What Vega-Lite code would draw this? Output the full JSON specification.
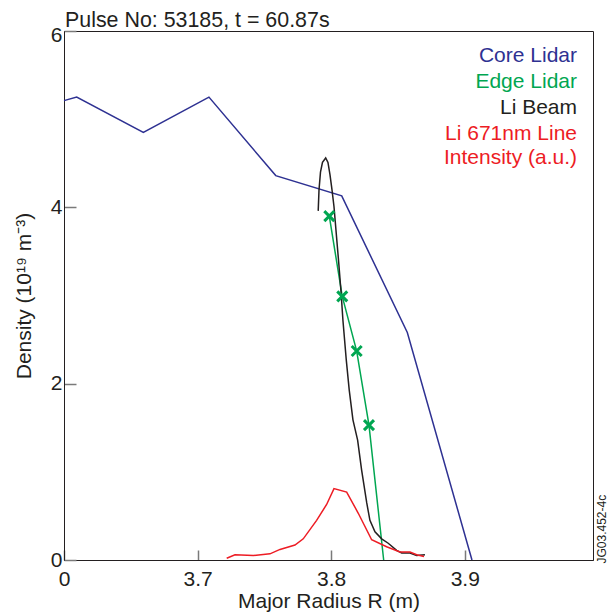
{
  "$schema": "https://vega.github.io/schema/vega-lite/v6.json",
  "width": 529,
  "height": 529,
  "autosize": "none",
  "padding": {"left": 64, "top": 31, "right": 17, "bottom": 52},
  "background": "white",
  "config": {"font": "Liberation Sans", "view": {"stroke": "#231f20", "strokeWidth": 1}},
  "title": {"text": "Pulse No: 53185, t = 60.87s", "anchor": "start", "frame": "group", "fontSize": 21.4, "fontWeight": "normal", "color": "#231f20", "baseline": "bottom", "offset": 1, "dx": 1, "dy": 29},
  "datasets": {
    "curves": [
      {"series": "Core Lidar", "R": 3.6, "D": 5.21},
      {"series": "Core Lidar", "R": 3.6095, "D": 5.25},
      {"series": "Core Lidar", "R": 3.6594, "D": 4.85},
      {"series": "Core Lidar", "R": 3.7085, "D": 5.25},
      {"series": "Core Lidar", "R": 3.7585, "D": 4.36},
      {"series": "Core Lidar", "R": 3.8079, "D": 4.13},
      {"series": "Core Lidar", "R": 3.857, "D": 2.58},
      {"series": "Core Lidar", "R": 3.9054, "D": 0.0},
      {"series": "Edge Lidar", "R": 3.7986, "D": 3.9},
      {"series": "Edge Lidar", "R": 3.8083, "D": 2.99},
      {"series": "Edge Lidar", "R": 3.8191, "D": 2.37},
      {"series": "Edge Lidar", "R": 3.8283, "D": 1.53},
      {"series": "Edge Lidar", "R": 3.8393, "D": 0.0},
      {"series": "Li Beam", "R": 3.7903, "D": 3.96},
      {"series": "Li Beam", "R": 3.7909, "D": 4.2},
      {"series": "Li Beam", "R": 3.792, "D": 4.4},
      {"series": "Li Beam", "R": 3.7935, "D": 4.51},
      {"series": "Li Beam", "R": 3.7959, "D": 4.56},
      {"series": "Li Beam", "R": 3.7976, "D": 4.51},
      {"series": "Li Beam", "R": 3.7991, "D": 4.37},
      {"series": "Li Beam", "R": 3.8006, "D": 4.2},
      {"series": "Li Beam", "R": 3.8021, "D": 4.01},
      {"series": "Li Beam", "R": 3.8036, "D": 3.74},
      {"series": "Li Beam", "R": 3.8055, "D": 3.4},
      {"series": "Li Beam", "R": 3.8073, "D": 3.06},
      {"series": "Li Beam", "R": 3.8088, "D": 2.72},
      {"series": "Li Beam", "R": 3.8113, "D": 2.27},
      {"series": "Li Beam", "R": 3.8135, "D": 1.93},
      {"series": "Li Beam", "R": 3.8163, "D": 1.59},
      {"series": "Li Beam", "R": 3.8198, "D": 1.36},
      {"series": "Li Beam", "R": 3.8228, "D": 1.02},
      {"series": "Li Beam", "R": 3.8266, "D": 0.65},
      {"series": "Li Beam", "R": 3.829, "D": 0.45},
      {"series": "Li Beam", "R": 3.8328, "D": 0.32},
      {"series": "Li Beam", "R": 3.8378, "D": 0.24},
      {"series": "Li Beam", "R": 3.8427, "D": 0.19},
      {"series": "Li Beam", "R": 3.849, "D": 0.11},
      {"series": "Li Beam", "R": 3.8528, "D": 0.08},
      {"series": "Li Beam", "R": 3.859, "D": 0.08},
      {"series": "Li Beam", "R": 3.864, "D": 0.05},
      {"series": "Li Beam", "R": 3.8702, "D": 0.06},
      {"series": "Li 671nm Line Intensity (a.u.)", "R": 3.7218, "D": 0.02},
      {"series": "Li 671nm Line Intensity (a.u.)", "R": 3.728, "D": 0.06},
      {"series": "Li 671nm Line Intensity (a.u.)", "R": 3.7417, "D": 0.05},
      {"series": "Li 671nm Line Intensity (a.u.)", "R": 3.7542, "D": 0.07},
      {"series": "Li 671nm Line Intensity (a.u.)", "R": 3.7617, "D": 0.12},
      {"series": "Li 671nm Line Intensity (a.u.)", "R": 3.7729, "D": 0.17},
      {"series": "Li 671nm Line Intensity (a.u.)", "R": 3.7791, "D": 0.24},
      {"series": "Li 671nm Line Intensity (a.u.)", "R": 3.7891, "D": 0.45},
      {"series": "Li 671nm Line Intensity (a.u.)", "R": 3.7966, "D": 0.63},
      {"series": "Li 671nm Line Intensity (a.u.)", "R": 3.8021, "D": 0.81},
      {"series": "Li 671nm Line Intensity (a.u.)", "R": 3.8116, "D": 0.77},
      {"series": "Li 671nm Line Intensity (a.u.)", "R": 3.8203, "D": 0.53},
      {"series": "Li 671nm Line Intensity (a.u.)", "R": 3.8303, "D": 0.23},
      {"series": "Li 671nm Line Intensity (a.u.)", "R": 3.8415, "D": 0.15},
      {"series": "Li 671nm Line Intensity (a.u.)", "R": 3.8515, "D": 0.09},
      {"series": "Li 671nm Line Intensity (a.u.)", "R": 3.859, "D": 0.09},
      {"series": "Li 671nm Line Intensity (a.u.)", "R": 3.864, "D": 0.06},
      {"series": "Li 671nm Line Intensity (a.u.)", "R": 3.8695, "D": 0.04}
    ],
    "markers": [
      {"series": "Edge Lidar", "R": 3.7986, "D": 3.9},
      {"series": "Edge Lidar", "R": 3.8083, "D": 2.99},
      {"series": "Edge Lidar", "R": 3.8191, "D": 2.37},
      {"series": "Edge Lidar", "R": 3.8283, "D": 1.53}
    ],
    "note": [
      {"label": "JG03.452-4c"}
    ]
  },
  "layer": [
    {
      "data": {"name": "curves"},
      "mark": {"type": "line", "strokeWidth": 1.5},
      "encoding": {
        "x": {
          "field": "R", "type": "quantitative",
          "scale": {"domain": [3.6, 3.996], "nice": false, "zero": false},
          "axis": {
            "values": [3.6, 3.7, 3.8, 3.9],
            "labelExpr": "datum.value < 3.65 ? '0' : format(datum.value, '.1f')",
            "title": "Major Radius R (m)",
            "tickSize": -10, "tickColor": "#7a7a7a", "tickWidth": 1.5,
            "labelPadding": 18, "labelFontSize": 21, "labelColor": "#231f20",
            "labelFlush": false, "labelOverlap": false,
            "titleFontSize": 21, "titleFontWeight": "normal", "titleColor": "#231f20", "titlePadding": 1,
            "domainColor": "#231f20", "grid": false
          }
        },
        "y": {
          "field": "D", "type": "quantitative",
          "scale": {"domain": [0, 6], "nice": false},
          "axis": {
            "values": [0, 2, 4, 6],
            "format": "d",
            "title": "Density (10¹⁹ m⁻³)",
            "tickSize": -12, "tickColor": "#7a7a7a", "tickWidth": 1.5,
            "labelPadding": 14, "labelFontSize": 21, "labelColor": "#231f20",
            "labelFlush": false, "labelOverlap": false,
            "labelOffset": {"condition": {"test": "datum.value == 6", "value": 4}, "value": 0},
            "titleFontSize": 21, "titleFontWeight": "normal", "titleColor": "#231f20", "titlePadding": 16,
            "domainColor": "#231f20", "grid": false
          }
        },
        "color": {
          "field": "series", "type": "nominal",
          "scale": {
            "domain": ["Core Lidar", "Edge Lidar", "Li Beam", "Li 671nm Line Intensity (a.u.)"],
            "range": ["#2e3192", "#00a651", "#231f20", "#ed1c24"]
          },
          "legend": {
            "orient": "none", "legendX": 492, "legendY": 14,
            "title": null, "padding": 0,
            "symbolSize": 0, "symbolStrokeWidth": 0, "symbolOpacity": 0,
            "labelOffset": 0, "labelAlign": "right", "labelBaseline": "middle",
            "labelFontSize": 21, "labelLimit": 0, "rowPadding": 4,
            "labelExpr": "datum.label == 'Li 671nm Line Intensity (a.u.)' ? ['Li 671nm Line', 'Intensity (a.u.)'] : datum.label",
            "encode": {"labels": {"update": {"fill": {"scale": "color", "field": "value"}, "lineHeight": {"value": 24}}}}
          }
        }
      }
    },
    {
      "data": {"name": "markers"},
      "mark": {"type": "point", "shape": "M-1,-1L1,1M-1,1L1,-1", "filled": false, "strokeWidth": 3, "size": 100, "color": "#00a651", "opacity": 1},
      "encoding": {
        "x": {"field": "R", "type": "quantitative"},
        "y": {"field": "D", "type": "quantitative"}
      }
    },
    {
      "data": {"name": "note"},
      "mark": {"type": "text", "angle": 270, "align": "center", "baseline": "middle", "fontSize": 12, "color": "#231f20", "clip": false},
      "encoding": {
        "x": {"datum": 4.003, "type": "quantitative"},
        "y": {"datum": 0.35, "type": "quantitative"},
        "text": {"field": "label"}
      }
    }
  ]
}
